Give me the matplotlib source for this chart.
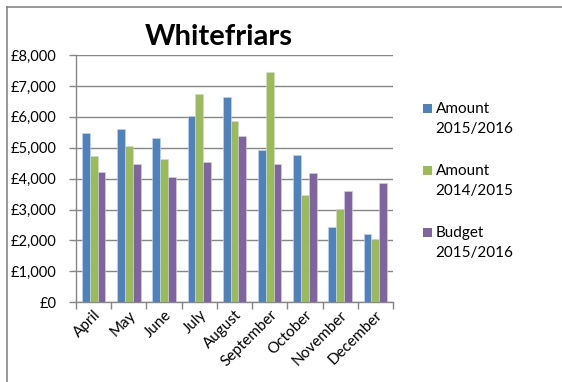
import matplotlib
matplotlib.use("Agg")
import matplotlib.pyplot as plt
import numpy as np
from matplotlib.patches import Rectangle
from matplotlib.lines import Line2D
from matplotlib.ticker import FuncFormatter

months = ["April", "May", "June", "July", "August", "September", "October", "November", "December"]
amount_1516 = [5490, 5590, 5320, 6020, 6650, 4940, 4760, 2450, 2200]
amount_1415 = [4730, 5060, 4620, 6730, 5870, 7450, 3470, 3010, 2060]
budget_1516 = [4210, 4480, 4050, 4530, 5390, 4480, 4190, 3600, 3870]
series_names = ["Amount\n2015/2016", "Amount\n2014/2015", "Budget\n2015/2016"]
colors = ["#4F81BD", "#9BBB59", "#8064A2"]
y_ticks = [0, 1000, 2000, 3000, 4000, 5000, 6000, 7000, 8000]

plt.rcParams['font.family'] = ['Lato', 'DejaVu Sans']
W, H = 562, 382
fig = plt.figure(figsize=(W / 100, H / 100), dpi=100)
grey = "#878787"

def px(x0, y0, x1, y1):
    return [x0 / W, 1 - y1 / H, (x1 - x0) / W, (y1 - y0) / H]

ax = fig.add_axes(px(76, 55, 393, 302.3))
x = np.arange(len(months))
bw = 0.222
for i, (vals, c) in enumerate(zip([amount_1516, amount_1415, budget_1516], colors)):
    ax.bar(x + (i - 1) * bw, vals, width=bw, color=c, edgecolor="#d0d8e8", linewidth=0.4, zorder=3)

ax.set_xlim(-0.5, len(months) - 0.5)
ax.set_ylim(0, 8000)
ax.set_yticks(y_ticks)
ax.yaxis.set_major_formatter(FuncFormatter(lambda v, p: "£{:,.0f}".format(v)))
ax.grid(axis="y", color=grey, linewidth=1.0, zorder=0)
ax.set_axisbelow(True)
for s in ["top", "right"]:
    ax.spines[s].set_visible(False)
for s in ["left", "bottom"]:
    ax.spines[s].set_color(grey)
    ax.spines[s].set_linewidth(1.0)
ax.set_xticks(x)
ax.set_xticklabels(months, rotation=45, ha="right", va="top", rotation_mode="anchor", fontsize=11)
ax.set_xticks(np.arange(-0.5, len(months)), minor=True)
ax.tick_params(axis="x", which="major", length=0, pad=4)
ax.tick_params(axis="x", which="minor", length=5, width=1.0, color=grey)
ax.tick_params(axis="y", length=5, width=1.0, color=grey, labelsize=10.5, pad=9)

fig.text(219 / W, 1 - 45 / H, "Whitefriars", fontsize=21, fontweight="bold", ha="center", va="baseline")

# legend
base = [113.3, 175.3, 237.3]
for name, c, yb in zip(series_names, colors, base):
    fig.patches.append(Rectangle((423.3 / W, 1 - 112.7 / H + (113.3 - yb) / H), 8.4 / W, 8.4 / H,
                                 transform=fig.transFigure, facecolor=c, edgecolor="none"))
    for k, line in enumerate(name.split("\n")):
        fig.text(435.5 / W, 1 - (yb + 20 * k) / H, line, fontsize=11, ha="left", va="baseline")

# outer frame (top and left)
fig.add_artist(Line2D([7 / W, 1], [1 - 7 / H, 1 - 7 / H], transform=fig.transFigure, color=grey, linewidth=1.2))
fig.add_artist(Line2D([7 / W, 7 / W], [0, 1 - 7 / H], transform=fig.transFigure, color=grey, linewidth=1.2))

fig.savefig("out.png", dpi=100)
